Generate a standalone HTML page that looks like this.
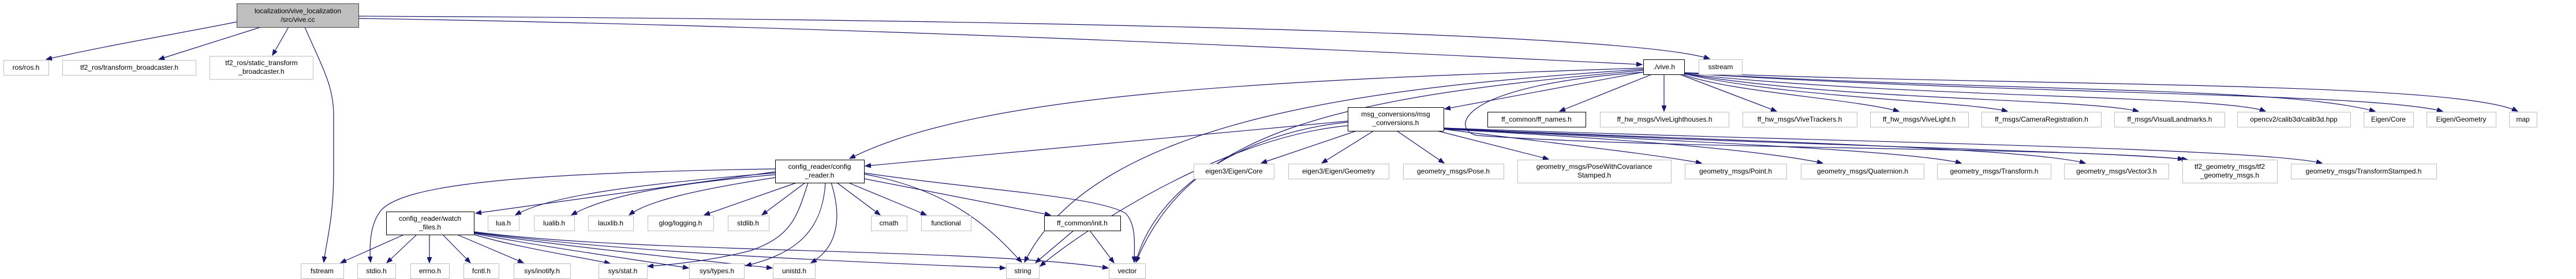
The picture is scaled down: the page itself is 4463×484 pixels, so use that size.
<!DOCTYPE html>
<html><head><meta charset="utf-8"><style>
html,body{margin:0;padding:0;background:#fff}
svg{display:block}
text{font-family:"Liberation Sans",sans-serif;font-size:12px;fill:#000;text-anchor:middle}
.e{fill:none;stroke:#191970;stroke-width:1.2}
.x{fill:#fff;stroke:#bfbfbf;stroke-width:1}
.i{fill:#fff;stroke:#000;stroke-width:1}
</style></head><body>
<svg width="4463" height="484" viewBox="0 0 4463 484" xmlns="http://www.w3.org/2000/svg">
<defs><marker id="a" markerWidth="11" markerHeight="8" refX="10" refY="4" orient="auto" markerUnits="userSpaceOnUse"><path d="M0,0 L10,4 L0,8 z" fill="#191970" stroke="#191970"/></marker></defs>
<g marker-end="url(#a)">
<!-- main -->
<path class="e" d="M410,38 C300,60 180,80 80,103"/>
<path class="e" d="M452,47 L275,103"/>
<path class="e" d="M500,47 L472,96"/>
<path class="e" d="M528,47 C560,120 578,150 578,200 L578,300 C578,380 565,420 561,455"/>
<path class="e" d="M621,32 C1500,45 2500,95 2845,112"/>
<path class="e" d="M621,28 C1500,32 2800,50 2962,102"/>
<!-- vive.h -->
<path class="e" d="M2847,118 C2200,140 1700,160 1472,275"/>
<path class="e" d="M2847,120 C2400,150 1900,200 1775,455"/>
<path class="e" d="M2847,122 C2300,170 2060,230 1968,455"/>
<path class="e" d="M2847,125 L2503,189"/>
<path class="e" d="M2862,129 L2702,193"/>
<path class="e" d="M2883,129 L2883,193"/>
<path class="e" d="M2910,129 L3078,193"/>
<path class="e" d="M2915,129 C3000,160 3200,170 3290,193"/>
<path class="e" d="M2918,128 C3100,170 3400,175 3478,193"/>
<path class="e" d="M2918,128 C3200,175 3600,170 3705,193"/>
<path class="e" d="M2918,128 C3300,170 3850,165 3925,193"/>
<path class="e" d="M2918,127 C3500,160 3950,150 4115,193"/>
<path class="e" d="M2918,127 C3500,165 4100,160 4232,193"/>
<path class="e" d="M2918,126 C3500,150 4250,140 4362,193"/>
<path class="e" d="M2850,125 C2500,150 2520,230 2560,235 C2900,260 3600,255 3790,277"/>
<!-- msg_conversions -->
<path class="e" d="M2335,210 L1499,288"/>
<path class="e" d="M2335,218 C2100,240 1850,420 1802,462"/>
<path class="e" d="M2335,212 C2150,230 2000,330 1968,455"/>
<path class="e" d="M2350,227 L2185,283"/>
<path class="e" d="M2380,227 L2290,283"/>
<path class="e" d="M2420,227 L2502,283"/>
<path class="e" d="M2490,227 L2683,276"/>
<path class="e" d="M2501,224 C2700,250 2850,265 2948,283"/>
<path class="e" d="M2501,224 C2800,240 3050,260 3158,283"/>
<path class="e" d="M2501,223 C2900,245 3300,260 3398,283"/>
<path class="e" d="M2501,223 C3000,245 3500,255 3613,283"/>
<path class="e" d="M2501,222 C3000,250 3600,260 3783,276"/>
<path class="e" d="M2501,222 C3100,245 3900,255 4023,283"/>
<!-- config_reader -->
<path class="e" d="M1343,298 L824,370"/>
<path class="e" d="M1343,300 C1100,320 950,340 893,373"/>
<path class="e" d="M1343,303 C1150,320 1050,340 990,373"/>
<path class="e" d="M1343,308 C1200,330 1120,350 1090,373"/>
<path class="e" d="M1380,317 L1220,373"/>
<path class="e" d="M1395,317 L1320,373"/>
<path class="e" d="M1450,317 L1525,373"/>
<path class="e" d="M1470,317 L1605,373"/>
<path class="e" d="M1497,310 L1820,373"/>
<path class="e" d="M1497,302 C1650,330 1720,400 1770,455"/>
<path class="e" d="M1497,300 C1700,330 1900,340 1950,370 C1970,390 1965,430 1965,455"/>
<path class="e" d="M1343,293 C900,300 700,320 660,365 C640,390 640,430 642,455"/>
<path class="e" d="M1400,317 C1380,380 1370,410 1300,435 C1220,455 1150,460 1122,462"/>
<path class="e" d="M1430,317 C1425,400 1380,440 1292,461"/>
<path class="e" d="M1440,317 C1460,380 1450,430 1405,456"/>
<!-- watch_files -->
<path class="e" d="M700,407 L590,456"/>
<path class="e" d="M722,407 L670,456"/>
<path class="e" d="M744,407 L744,456"/>
<path class="e" d="M767,407 L815,456"/>
<path class="e" d="M792,407 L907,456"/>
<path class="e" d="M821,407 C900,430 1000,445 1057,457"/>
<path class="e" d="M821,405 C950,430 1100,450 1193,465"/>
<path class="e" d="M821,404 C1000,430 1200,450 1338,465"/>
<path class="e" d="M821,403 C1100,440 1500,455 1742,465"/>
<path class="e" d="M821,402 C1100,440 1700,430 1920,465"/>
<!-- init -->
<path class="e" d="M1860,400 L1794,456"/>
<path class="e" d="M1888,400 L1930,456"/>
</g>
<!-- nodes -->
<rect x="410.5" y="6.5" width="211" height="41" fill="#bfbfbf" stroke="#404040"/>
<text x="516" y="23">localization/vive_localization</text><text x="516" y="38">/src/vive.cc</text>
<rect class="x" x="6.5" y="104.5" width="78" height="26"/><text x="45" y="121">ros/ros.h</text>
<rect class="x" x="108.5" y="104.5" width="231" height="26"/><text x="224" y="121">tf2_ros/transform_broadcaster.h</text>
<rect class="x" x="363.5" y="97.5" width="179" height="40"/><text x="453" y="113">tf2_ros/static_transform</text><text x="453" y="128">_broadcaster.h</text>
<rect class="i" x="669.5" y="367.5" width="152" height="40"/><text x="745" y="383">config_reader/watch</text><text x="745" y="398">_files.h</text>
<rect class="x" x="845.5" y="374.5" width="54" height="26"/><text x="872" y="391">lua.h</text>
<rect class="x" x="925.5" y="374.5" width="70" height="26"/><text x="960" y="391">lualib.h</text>
<rect class="x" x="1019.5" y="374.5" width="78" height="26"/><text x="1058" y="391">lauxlib.h</text>
<rect class="x" x="1122.5" y="374.5" width="114" height="26"/><text x="1179" y="391">glog/logging.h</text>
<rect class="x" x="1261.5" y="374.5" width="71" height="26"/><text x="1296" y="391">stdlib.h</text>
<rect class="x" x="1509.5" y="374.5" width="62" height="26"/><text x="1540" y="391">cmath</text>
<rect class="x" x="1596.5" y="374.5" width="86" height="26"/><text x="1639" y="391">functional</text>
<rect class="i" x="1809.5" y="374.5" width="132" height="26"/><text x="1875" y="391">ff_common/init.h</text>
<rect class="i" x="1343.5" y="277.5" width="154" height="40"/><text x="1420" y="293">config_reader/config</text><text x="1420" y="308">_reader.h</text>
<rect class="x" x="521.5" y="457.5" width="74" height="26"/><text x="558" y="474">fstream</text>
<rect class="x" x="619.5" y="457.5" width="66" height="26"/><text x="652" y="474">stdio.h</text>
<rect class="x" x="711.5" y="457.5" width="67" height="26"/><text x="745" y="474">errno.h</text>
<rect class="x" x="803.5" y="457.5" width="61" height="26"/><text x="834" y="474">fcntl.h</text>
<rect class="x" x="890.5" y="457.5" width="98" height="26"/><text x="939" y="474">sys/inotify.h</text>
<rect class="x" x="1037.5" y="457.5" width="84" height="26"/><text x="1079" y="474">sys/stat.h</text>
<rect class="x" x="1194.5" y="457.5" width="95" height="26"/><text x="1242" y="474">sys/types.h</text>
<rect class="x" x="1339.5" y="457.5" width="73" height="26"/><text x="1376" y="474">unistd.h</text>
<rect class="x" x="1743.5" y="457.5" width="57" height="26"/><text x="1772" y="474">string</text>
<rect class="x" x="1921.5" y="457.5" width="63" height="26"/><text x="1953" y="474">vector</text>
<rect class="i" x="2847.5" y="103.5" width="71" height="26"/><text x="2883" y="120">./vive.h</text>
<rect class="x" x="2943.5" y="103.5" width="75" height="26"/><text x="2981" y="120">sstream</text>
<rect class="i" x="2335.5" y="186.5" width="166" height="41"/><text x="2418" y="202">msg_conversions/msg</text><text x="2418" y="217">_conversions.h</text>
<rect class="i" x="2577.5" y="194.5" width="170" height="26"/><text x="2662" y="211">ff_common/ff_names.h</text>
<rect class="x" x="2772.5" y="194.5" width="223" height="26"/><text x="2884" y="211">ff_hw_msgs/ViveLighthouses.h</text>
<rect class="x" x="3019.5" y="194.5" width="198" height="26"/><text x="3118" y="211">ff_hw_msgs/ViveTrackers.h</text>
<rect class="x" x="3240.5" y="194.5" width="170" height="26"/><text x="3325" y="211">ff_hw_msgs/ViveLight.h</text>
<rect class="x" x="3433.5" y="194.5" width="207" height="26"/><text x="3537" y="211">ff_msgs/CameraRegistration.h</text>
<rect class="x" x="3663.5" y="194.5" width="191" height="26"/><text x="3759" y="211">ff_msgs/VisualLandmarks.h</text>
<rect class="x" x="3876.5" y="194.5" width="196" height="26"/><text x="3974" y="211">opencv2/calib3d/calib3d.hpp</text>
<rect class="x" x="4095.5" y="194.5" width="86" height="26"/><text x="4138" y="211">Eigen/Core</text>
<rect class="x" x="4204.5" y="194.5" width="120" height="26"/><text x="4264" y="211">Eigen/Geometry</text>
<rect class="x" x="4347.5" y="194.5" width="48" height="26"/><text x="4371" y="211">map</text>
<rect class="x" x="2068.5" y="284.5" width="139" height="26"/><text x="2138" y="301">eigen3/Eigen/Core</text>
<rect class="x" x="2232.5" y="284.5" width="174" height="26"/><text x="2319" y="301">eigen3/Eigen/Geometry</text>
<rect class="x" x="2431.5" y="284.5" width="174" height="26"/><text x="2518" y="301">geometry_msgs/Pose.h</text>
<rect class="x" x="2629.5" y="277.5" width="266" height="40"/><text x="2762" y="293">geometry_msgs/PoseWithCovariance</text><text x="2762" y="308">Stamped.h</text>
<rect class="x" x="2919.5" y="284.5" width="176" height="26"/><text x="3007" y="301">geometry_msgs/Point.h</text>
<rect class="x" x="3120.5" y="284.5" width="213" height="26"/><text x="3227" y="301">geometry_msgs/Quaternion.h</text>
<rect class="x" x="3356.5" y="284.5" width="197" height="26"/><text x="3455" y="301">geometry_msgs/Transform.h</text>
<rect class="x" x="3576.5" y="284.5" width="181" height="26"/><text x="3667" y="301">geometry_msgs/Vector3.h</text>
<rect class="x" x="3781.5" y="277.5" width="164" height="40"/><text x="3863" y="293">tf2_geometry_msgs/tf2</text><text x="3863" y="308">_geometry_msgs.h</text>
<rect class="x" x="3969.5" y="284.5" width="252" height="26"/><text x="4095" y="301">geometry_msgs/TransformStamped.h</text>
</svg>
</body></html>
